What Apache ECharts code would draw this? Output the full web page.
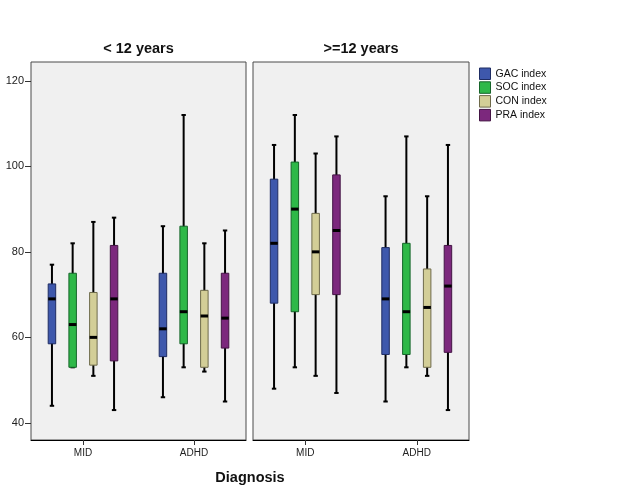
<!DOCTYPE html>
<html>
<head>
<meta charset="utf-8">
<script src="https://cdn.jsdelivr.net/npm/echarts@6/dist/echarts.min.js"></script>
<style>
html,body{margin:0;padding:0;background:#fff;}
#chart{width:626px;height:501px;}
</style>
</head>
<body>
<div id="chart"></div>
<script>
// ---- data ----
const categories = ['MID', 'ADHD'];
const panelTitles = ['< 12 years', '>=12 years'];
const seriesNames = ['GAC index', 'SOC index', 'CON index', 'PRA index'];
const yTicks = [40, 60, 80, 100, 120];
const xAxisTitle = 'Diagnosis';

// each box: [lower whisker, Q1, median, Q3, upper whisker]; one row per category (MID, ADHD)
const under12_GAC = [[44, 58.5, 69, 72.5, 77], [46, 55.5, 62, 75, 86]];
const under12_SOC = [[53, 53, 63, 75, 82], [53, 58.5, 66, 86, 112]];
const under12_CON = [[51, 53.5, 60, 70.5, 87], [52, 53, 65, 71, 82]];
const under12_PRA = [[43, 54.5, 69, 81.5, 88], [45, 57.5, 64.5, 75, 85]];

const over12_GAC = [[48, 68, 82, 97, 105], [45, 56, 69, 81, 93]];
const over12_SOC = [[53, 66, 90, 101, 112], [53, 56, 66, 82, 107]];
const over12_CON = [[51, 70, 80, 89, 103], [51, 53, 67, 76, 93]];
const over12_PRA = [[47, 70, 85, 98, 107], [43, 56.5, 72, 81.5, 105]];

const panelData = [
  [under12_GAC, under12_SOC, under12_CON, under12_PRA],
  [over12_GAC, over12_SOC, over12_CON, over12_PRA]
];

// ---- styling ----
const colors = ['#3E58AC', '#2EB848', '#D3CE97', '#7C287D'];
const borders = ['#1E2C63', '#16652A', '#6E6A4A', '#431444'];
const FONT = 'Liberation Sans, Arial, sans-serif';

const chart = echarts.init(document.getElementById('chart'), null, {renderer: 'canvas'});

const grids = [
  {left: 31, top: 62, width: 215, height: 378},
  {left: 253, top: 62, width: 216, height: 378}
];

function makeRender(si) {
  return function (params, api) {
    const xv = api.value(0);
    const unit = api.size([1, 0])[0];
    const off = (si - 1.5) * 0.1865 * unit;
    const pLow = api.coord([xv, api.value(1)]);
    const pQ1 = api.coord([xv, api.value(2)]);
    const pMed = api.coord([xv, api.value(3)]);
    const pQ3 = api.coord([xv, api.value(4)]);
    const pHigh = api.coord([xv, api.value(5)]);
    const cx = pLow[0] + off;
    const hw = 3.75;
    const capW = 2.2;
    const blk = '#000';
    return {
      type: 'group',
      children: [
        {type: 'line', shape: {x1: cx, y1: pLow[1], x2: cx, y2: pHigh[1]}, style: {stroke: blk, lineWidth: 2}},
        {type: 'line', shape: {x1: cx - capW, y1: pLow[1], x2: cx + capW, y2: pLow[1]}, style: {stroke: blk, lineWidth: 2}},
        {type: 'line', shape: {x1: cx - capW, y1: pHigh[1], x2: cx + capW, y2: pHigh[1]}, style: {stroke: blk, lineWidth: 2}},
        {type: 'rect', shape: {x: cx - hw, y: pQ3[1], width: hw * 2, height: pQ1[1] - pQ3[1]},
          style: {fill: colors[si], stroke: borders[si], lineWidth: 1}},
        {type: 'line', shape: {x1: cx - hw, y1: pMed[1], x2: cx + hw, y2: pMed[1]}, style: {stroke: blk, lineWidth: 3}}
      ]
    };
  };
}

const series = [];
panelData.forEach(function (panel, p) {
  panel.forEach(function (boxes, si) {
    series.push({
      name: seriesNames[si],
      type: 'custom',
      xAxisIndex: p,
      yAxisIndex: p,
      itemStyle: {color: colors[si], borderColor: borders[si]},
      encode: {x: 0, y: [1, 2, 3, 4, 5]},
      renderItem: makeRender(si),
      data: boxes.map(function (b, ci) { return [ci + 1].concat(b); }),
      silent: true
    });
  });
});

const xAxes = grids.map(function (g, i) {
  return {
    type: 'value',
    gridIndex: i,
    min: 0.5315,
    max: 2.4685,
    splitLine: {show: false},
    axisLine: {show: true, lineStyle: {color: '#000', width: 1}},
    axisTick: {show: true, customValues: [1, 2], length: 5, lineStyle: {color: '#333', width: 1}},
    axisLabel: {
      customValues: [1, 2],
      formatter: function (v) { return categories[Math.round(v) - 1] || ''; },
      fontFamily: FONT, fontSize: 10, color: '#222', margin: 8
    }
  };
});

const yAxes = grids.map(function (g, i) {
  return {
    type: 'value',
    gridIndex: i,
    min: 36,
    max: 124.4,
    splitLine: {show: false},
    axisLine: {show: false},
    axisTick: {show: i === 0, customValues: yTicks, length: 6, lineStyle: {color: '#333', width: 1}},
    axisLabel: {
      show: i === 0,
      customValues: yTicks,
      fontFamily: FONT, fontSize: 11, color: '#222', margin: 7
    }
  };
});

const option = {
  backgroundColor: '#ffffff',
  animation: false,
  grid: grids.map(function (g) {
    return Object.assign({show: true, backgroundColor: '#F0F0F0', borderColor: '#4a4a4a', borderWidth: 1}, g);
  }),
  xAxis: xAxes,
  yAxis: yAxes,
  legend: {
    orient: 'vertical',
    left: 479,
    top: 67.5,
    padding: 0,
    itemGap: 1.3,
    itemWidth: 11,
    itemHeight: 11.5,
    icon: 'rect',
    selectedMode: false,
    textStyle: {fontFamily: FONT, fontSize: 10.5, color: '#111', lineHeight: 12},
    data: seriesNames.map(function (n, i) {
      return {name: n, itemStyle: {color: colors[i], borderColor: borders[i], borderWidth: 1}};
    })
  },
  graphic: [
    {type: 'text', x: 31 + 107.5, y: 49, style: {text: panelTitles[0], fontFamily: FONT, fontWeight: 'bold', fontSize: 14.5, fill: '#111', align: 'center', verticalAlign: 'middle'}},
    {type: 'text', x: 253 + 108, y: 49, style: {text: panelTitles[1], fontFamily: FONT, fontWeight: 'bold', fontSize: 14.5, fill: '#111', align: 'center', verticalAlign: 'middle'}},
    {type: 'text', x: 250, y: 478, style: {text: xAxisTitle, fontFamily: FONT, fontWeight: 'bold', fontSize: 14.5, fill: '#111', align: 'center', verticalAlign: 'middle'}}
  ],
  series: series
};

chart.setOption(option);
</script>
</body>
</html>
